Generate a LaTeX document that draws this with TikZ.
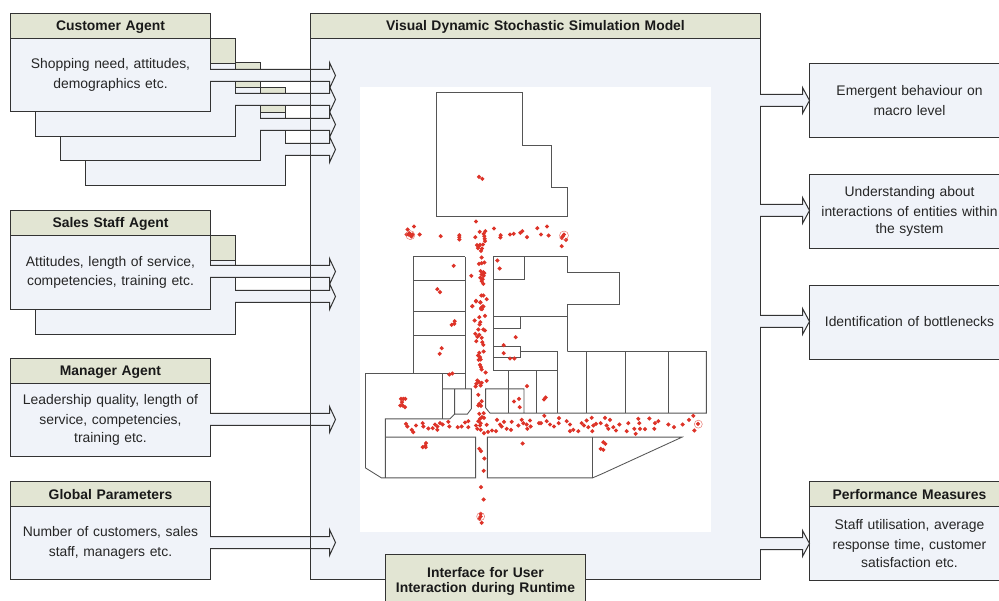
\documentclass[tikz,border=0pt]{standalone}
\usepackage{fontspec}
\setmainfont{Liberation Sans}
\definecolor{paleblue}{HTML}{F0F3F9}
\definecolor{headgreen}{HTML}{E2E5D3}
\definecolor{edge}{HTML}{333333}
\definecolor{planline}{HTML}{555555}
\definecolor{dotred}{HTML}{DD3328}
\tikzset{
  bodybox/.style={draw=edge,line width=1pt,outer sep=0pt,fill=paleblue,inner sep=0pt,align=center,text width=196pt,font=\fontsize{13.9}{17.6}\selectfont,text=black!85,execute at begin node=\vspace{2pt}},
  headbox/.style={draw=edge,line width=1pt,outer sep=0pt,fill=headgreen,inner sep=0pt,align=center,text width=196pt,font=\fontsize{13.9}{15.5}\selectfont\bfseries,text=black!90},
  headline/.style={headbox,text height=10pt,text depth=0pt},
  blockarrow/.style={draw=edge,line width=1pt,fill=paleblue},
  planwall/.style={draw=planline,line width=0.85pt},
  crowd/.style={fill=dotred},
  ring/.style={draw=dotred!70,line width=0.45pt}
}
% name, x, y, total height, title, body
\newcommand\agentbox[6]{%
  \node[headline,minimum width=200pt,minimum height=25pt,anchor=north west] (#1h) at (#2,#3) {#5};
  \node[bodybox,minimum width=200pt,minimum height=#4pt-25pt,anchor=north] (#1) at (#1h.south) {#6};
}
% source node, x of tip node anchor shift, y centre
\newcommand\intoarrow[3]{%
  \path[blockarrow] ([xshift=-0.5pt]#1.east |- 0,#3-6) -- ([xshift=#2pt-6pt]main.west |- 0,#3-6) -- ([xshift=#2pt-6pt]main.west |- 0,#3-13) -- ([xshift=#2pt]main.west |- 0,#3) -- ([xshift=#2pt-6pt]main.west |- 0,#3+13) -- ([xshift=#2pt-6pt]main.west |- 0,#3+6) -- ([xshift=-0.5pt]#1.east |- 0,#3+6);
}
\newcommand\outofarrow[2]{%
  \path[blockarrow] ([xshift=-0.5pt]main.east |- 0,#2-6) -- ([xshift=-7pt]#1.west |- 0,#2-6) -- ([xshift=-7pt]#1.west |- 0,#2-13) -- (#1.west |- 0,#2) -- ([xshift=-7pt]#1.west |- 0,#2+13) -- ([xshift=-7pt]#1.west |- 0,#2+6) -- ([xshift=-0.5pt]main.east |- 0,#2+6);
}
\newcommand\crowdmark[2]{\fill[crowd] (#1,#2) +(0,2.2pt) -- +(2.2pt,0) -- +(0,-2.2pt) -- +(-2.2pt,0) -- cycle;}
\begin{document}
\begin{tikzpicture}[x=1pt,y=-1pt]
\useasboundingbox (0,0) rectangle (999,601);
\clip (0,0) rectangle (999,601);
\fill[white] (0,0) rectangle (999,601);
\begin{scope}[shift={(-0.5,0.5)}]
% main body fill
\node[fill=paleblue,inner sep=0pt,outer sep=0pt,minimum width=450pt,minimum height=566pt,anchor=north west] (main) at (311,13) {};
% customer stack
\agentbox{custd}{86}{87}{98}{}{}
\intoarrow{custd}{25}{149}
\agentbox{custc}{61}{62}{98}{}{}
\intoarrow{custc}{25}{124}
\agentbox{custb}{36}{38}{98}{}{}
\intoarrow{custb}{25}{99}
\agentbox{custa}{11}{13}{98}{Customer Agent}{Shopping need, attitudes,\\demographics etc.}
\intoarrow{custa}{25}{75}
% sales stack
\agentbox{salesb}{36}{235}{99}{}{}
\intoarrow{salesb}{25}{296}
\agentbox{salesa}{11}{210}{99}{Sales Staff Agent}{Attitudes, length of service,\\competencies, training etc.}
\intoarrow{salesa}{25}{271}
% manager, global
\agentbox{mgr}{11}{358}{98}{Manager Agent}{Leadership quality, length of\\service, competencies,\\training etc.}
\intoarrow{mgr}{25}{419}
\agentbox{glob}{11}{481}{98}{Global Parameters}{Number of customers, sales\\staff, managers etc.}
\intoarrow{glob}{25}{542}
% main outline
\draw[draw=edge,line width=1pt] (main.north west) rectangle (main.south east);
\node[headline,minimum width=450pt,text width=440pt,minimum height=25pt,anchor=north] (mainh) at (main.north) {Visual Dynamic Stochastic Simulation Model};
% image
\fill[white] (360.5,87) rectangle (711.5,531);
% floor plan, upper part
\begin{scope}[shift={(360.5,80)},x=0.33333pt,y=-0.33333pt]
\draw[planwall] (229,35) -- (488,35) -- (488,194) -- (575,194) -- (575,320) -- (623,320) -- (623,409) -- (229,409) -- cycle;
\draw[planwall] (160,529) -- (316,529);
\draw[planwall] (160,599) -- (316,599);
\draw[planwall] (400,597) -- (492,597) -- (492,527);
\draw[planwall] (400,871) -- (400,527) -- (623,527) -- (623,575) -- (778,575) -- (778,672) -- (623,672) -- (623,813);
\foreach \x/\y in {357/289,367/295,348/423,143/447,162/438,140/462,146/462,152/462,158/462,148/458,154/468,179/462,242/467,298/464,298/470,298/477,346/470,359/454,376/452,371/460,373/467,374/475,375/482,402/444,422/464,421/471,450/462,461/460,481/457,487/452,501/470,532/443,561/438,543/462,566/465,612/462,608/468,605/472,618/478,605/497,351/494,356/497,360/493,369/492,354/503,363/511,366/504,365/531,357/550,365/548,373/546,412/540,419/564,281/556,334/586,362/572,370/575,373/578,365/582,371/586,361/592,368/596,365/602,370/610,232/626,240/635,348/661,364/645,370/645,380/656,361/665,337/677,364/682,370/678,366/686}{\crowdmark{\x}{\y}}
\draw[ring] (151,464) circle (4.5pt);
\draw[ring] (612,465) circle (4.5pt);
\end{scope}
% floor plan, lower part
\begin{scope}[shift={(360.5,300)},x=0.33333pt,y=-0.33333pt]
\draw[planwall] (160,-131) -- (160,219);
\draw[planwall] (316,-131) -- (316,265);
\draw[planwall] (160,34) -- (316,34);
\draw[planwall] (160,105) -- (316,105);
\draw[planwall] (400,49) -- (622,49);
\draw[planwall] (400,85) -- (482,85) -- (482,49);
\draw[planwall] (400,137) -- (482,137) -- (482,172) -- (400,172);
\draw[planwall] (482,152) -- (593,152);
\draw[planwall] (400,211) -- (593,211);
\draw[planwall] (593,152) -- (593,338);
\draw[planwall] (445,211) -- (445,338);
\draw[planwall] (530,211) -- (530,338);
\draw[planwall] (622,153) -- (1039,153) -- (1039,338) -- (390,338) -- (377,322) -- (377,265) -- (492,265) -- (492,338);
\draw[planwall] (678,153) -- (678,338);
\draw[planwall] (797,153) -- (797,338);
\draw[planwall] (926,153) -- (926,338);
\draw[planwall] (16,502) -- (16,219) -- (316,219);
\draw[planwall] (248,219) -- (248,355);
\draw[planwall] (248,265) -- (334,265) -- (334,325) -- (322,341) -- (284,341) -- (284,265);
\draw[planwall] (284,341) -- (270,355) -- (76,355) -- (76,532);
\draw[planwall] (16,502) -- (64,532) -- (347,532) -- (347,410) -- (76,410);
\draw[planwall] (382,532) -- (382,410) -- (966,410) -- (726,520) -- (698,532) -- cycle;
\draw[planwall] (698,410) -- (698,532);
\foreach \x/\y in {348/3,361/6,368/18,363/25,337/17,358/50,375/46,344/60,361/65,359/72,284/62,283/70,275/73,355/87,370/87,375/90,346/100,358/103,352/109,349/122,365/112,367/125,370/133,371/153,358/157,354/165,360/170,356/178,362/177,360/193,363/200,365/207,377/216,245/143,239/160,277/219,268/222,352/240,349/250,357/245,365/247,380/241,362/255,347/258,355/283,365/302,358/310,355/315,363/316,501/257,467/110,431/134,431/158,450/174,463/174,477/295,462/303,479/320,557/291,552/297,123/295,130/295,136/295,126/305,121/315,128/315,135/320,371/338,358/340,366/350,360/355,372/352,355/362,362/368,348/375,360/375,380/373,352/385,362/388,372/398,384/394,396/390,408/392,411/358,420/372,425/378,432/364,440/385,453/388,455/364,475/375,485/358,490/368,500/372,510/360,512/378,502/385,553/346,560/362,570/372,582/378,597/353,596/368,537/368,543/368,620/362,630/372,630/392,640/388,655/392,665/368,672/375,680/360,685/380,695/352,700/375,697/392,708/370,722/368,735/352,750/358,740/375,745/385,760/380,768/390,778/372,800/392,805/368,823/385,835/355,838/368,840/385,827/400,855/386,868/354,885/368,883/385,895/362,925/372,942/380,968/372,987/358,1000/346,1003/390,1014/370,138/370,142/378,155/388,160/395,168/375,188/368,190/378,205/384,218/383,225/372,232/378,232/388,240/368,248/372,265/364,268/378,293/380,305/378,315/366,325/362,325/380,198/428,196/436,188/440,197/440,488/429,730/425,736/430,722/445,730/448,358/445,363/452,373/474,371/511,363/560,371/597,362/640,362/648,358/655,365/667}{\crowdmark{\x}{\y}}
\draw[ring] (1015,371) circle (4pt);
\draw[ring] (362,648) circle (4pt);
\end{scope}
% right boxes
\node[bodybox,minimum width=200pt,minimum height=74pt,anchor=north west] (outa) at (810,63) {Emergent behaviour on\\macro level};
\node[bodybox,minimum width=200pt,minimum height=74pt,anchor=north west] (outb) at (810,174) {Understanding about\\interactions of entities within\\the system};
\node[bodybox,minimum width=200pt,minimum height=74pt,anchor=north west] (outc) at (810,285) {Identification of bottlenecks};
\node[headline,minimum width=200pt,minimum height=25pt,anchor=north west] (outdh) at (810,481) {Performance Measures};
\node[bodybox,minimum width=200pt,minimum height=74pt,anchor=north] (outd) at (outdh.south) {Staff utilisation, average\\response time, customer\\satisfaction etc.};
\outofarrow{outa}{100}
\outofarrow{outb}{210}
\outofarrow{outc}{321}
\outofarrow{outd}{543}
% interface
\node[headbox,minimum width=200pt,minimum height=54pt,anchor=north west] (ui) at (386,554) {Interface for User\\Interaction during Runtime};
\end{scope}
\end{tikzpicture}
\end{document}
